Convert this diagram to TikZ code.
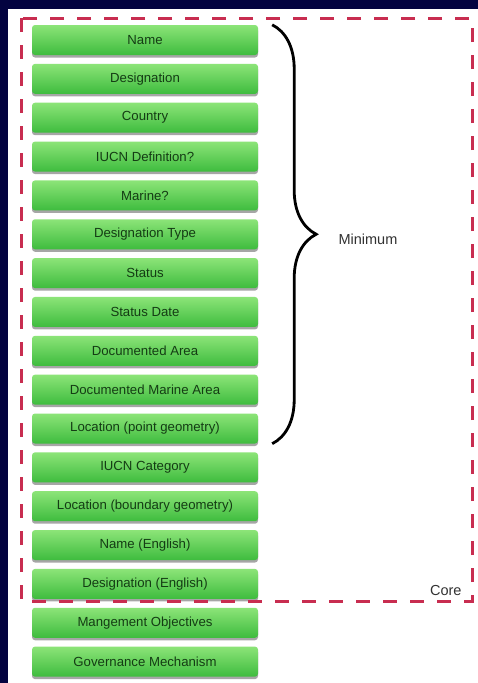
\documentclass[tikz,border=0pt]{standalone}
\usepackage{fontspec}
\setmainfont{Liberation Sans}
\usetikzlibrary{shadows,decorations.pathreplacing}

\definecolor{navy}{RGB}{3,3,64}
\definecolor{coreline}{RGB}{200,45,80}
\definecolor{boxtop}{RGB}{140,228,120}
\definecolor{boxbottom}{RGB}{62,188,62}
\definecolor{boxtext}{RGB}{20,60,20}
\definecolor{labeltext}{RGB}{50,50,50}

\tikzset{
    field/.style={rectangle, rounded corners=3pt, minimum width=226pt, minimum height=30pt,
        inner sep=0pt, top color=boxtop, bottom color=boxbottom,
        drop shadow={shadow xshift=0pt, shadow yshift=-2.5pt, opacity=.35, fill=black},
        text=boxtext, font=\fontsize{13.2}{15}\selectfont},
    setlabel/.style={text=labeltext, font=\fontsize{14.5}{16}\selectfont}
}

\begin{document}
\begin{tikzpicture}[
        x=1pt, y=-1pt,
        node distance = 38.85pt]

        % BACKGROUND
        \useasboundingbox (0,0) rectangle (478,683);
        \fill[navy] (0,0) rectangle (478,683);
        \fill[white] (8,9) rectangle (478,683);

        % NODES
        \node[field] at (145,40) (name) {Name};
        \node[field, below of = name] (designation) {Designation};
        \node[field, below of = designation] (country) {Country};
        \node[field, below of = country] (iucn_def) {IUCN Definition?};
        \node[field, below of = iucn_def] (marine) {Marine?};
        \node[field, below of = marine] (desig_type) {Designation Type};
        \node[field, below of = desig_type] (status) {Status};
        \node[field, below of = status] (status_date) {Status Date};
        \node[field, below of = status_date] (doc_area) {Documented Area};
        \node[field, below of = doc_area] (doc_marine) {Documented Marine Area};
        \node[field, below of = doc_marine] (loc_point) {Location (point geometry)};
        \node[field, below of = loc_point] (iucn_cat) {IUCN Category};
        \node[field, below of = iucn_cat] (loc_boundary) {Location (boundary geometry)};
        \node[field, below of = loc_boundary] (name_en) {Name (English)};
        \node[field, below of = name_en] (desig_en) {Designation (English)};
        \node[field, below of = desig_en] (mgmt) {Mangement Objectives};
        \node[field, below of = mgmt] (governance) {Governance Mechanism};

        % labels
        \node[setlabel, anchor=west] at (335,239) (lbl_min) {Minimum};
        \node[setlabel, anchor=south east] at (465,599) (lbl_core) {Core};

        % core set
        \draw[coreline, line width=3pt, dash pattern=on 14pt off 13pt] (21,18) rectangle (472,601);

        % minimum set
        \draw[line width=2.8pt, decorate, decoration={brace, amplitude=44pt}]
            ([xshift=14pt]name.north east) -- ([xshift=14pt]loc_point.south east);
        \end{tikzpicture}
\end{document}
